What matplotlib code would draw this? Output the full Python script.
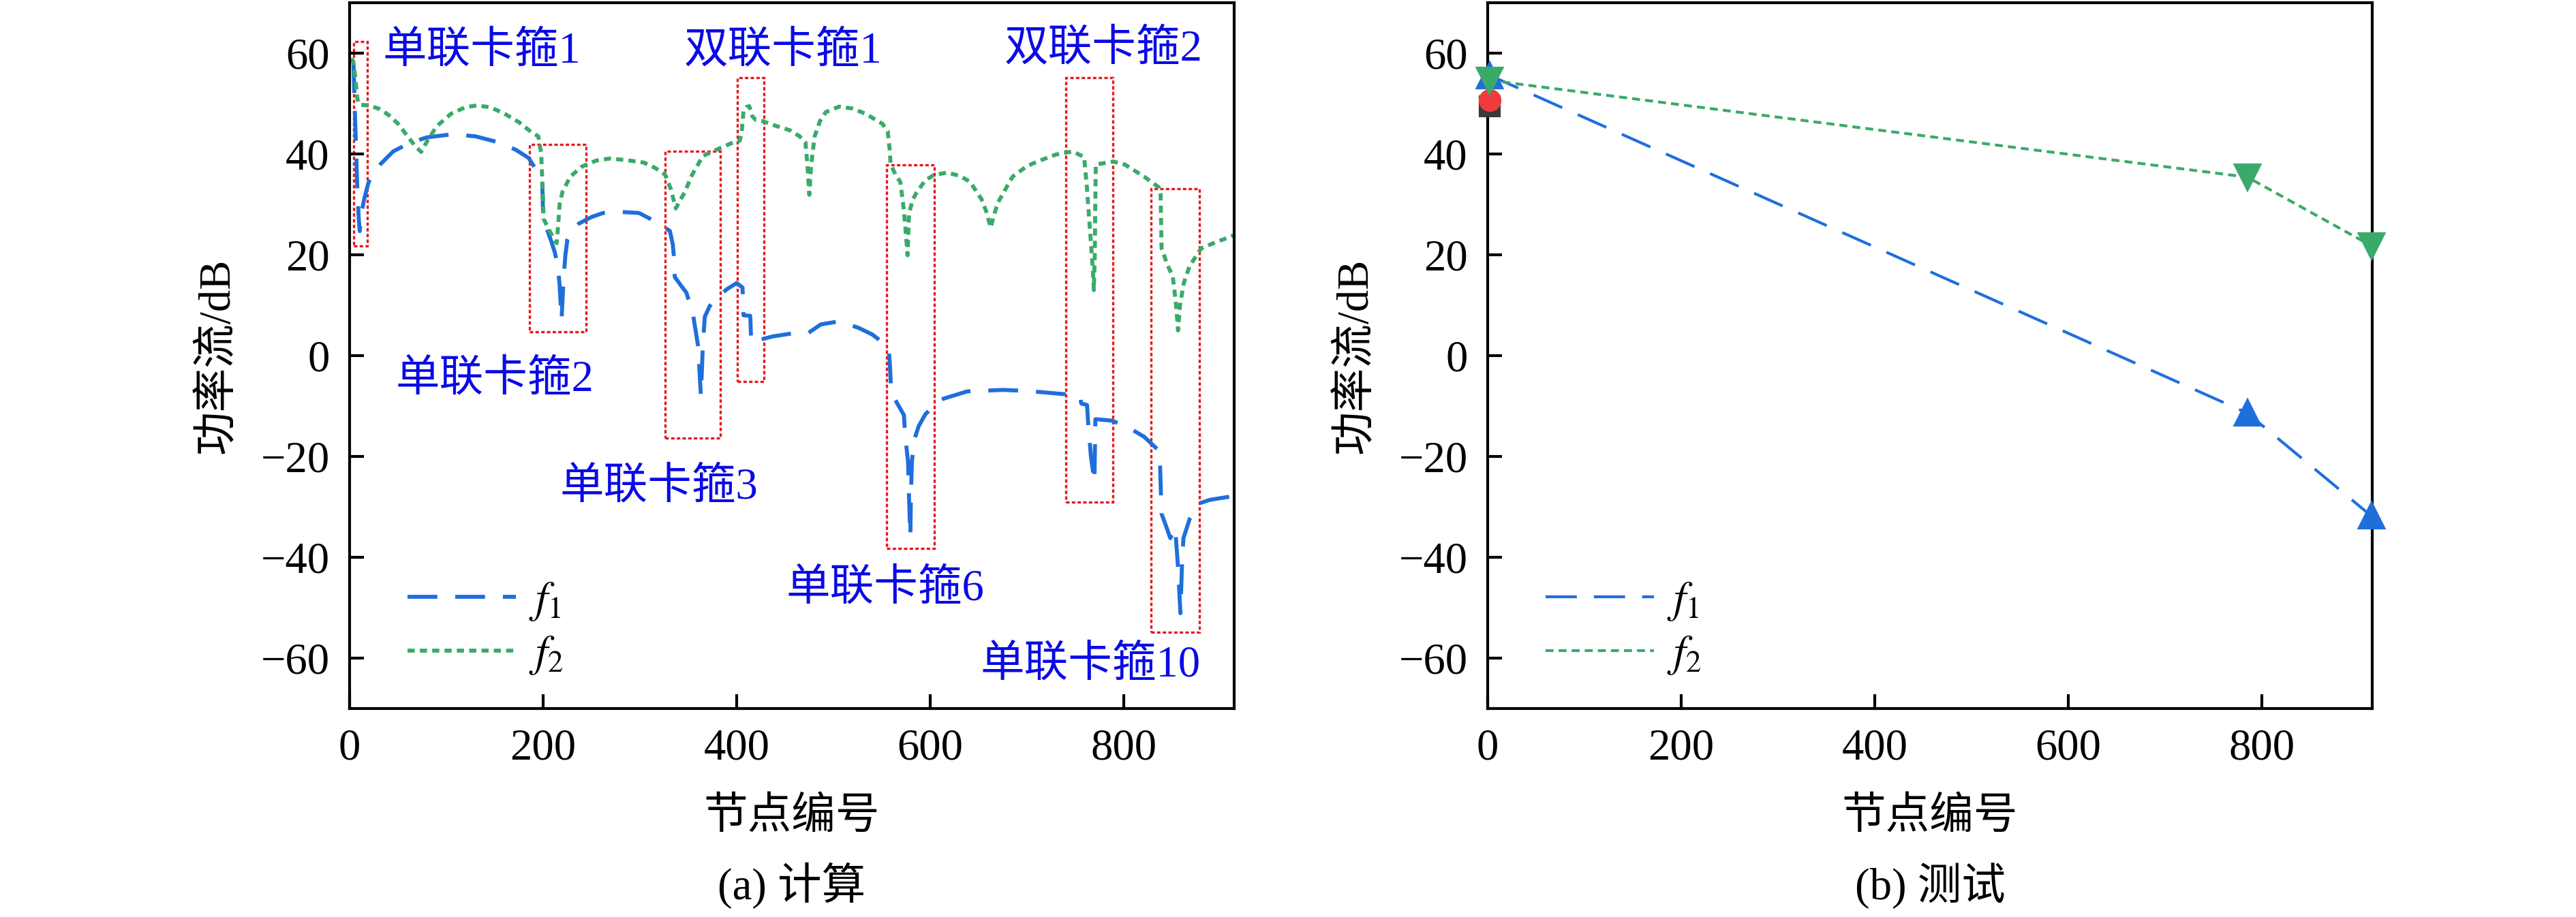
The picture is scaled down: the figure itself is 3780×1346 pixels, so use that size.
import numpy as np
import matplotlib
matplotlib.use("Agg")
import matplotlib.pyplot as plt
from matplotlib.patches import Rectangle

plt.rcParams['font.family'] = ['Liberation Serif', 'Noto Sans CJK SC']
plt.rcParams['mathtext.fontset'] = 'stix'
plt.rcParams['font.size'] = 15.5

BLUE = '#1f6fdb'
GREEN = '#3aaa6a'

# (a) computed power flow, f1
f1_x = [4, 6, 8, 9.5, 10.5, 12, 15, 19, 22, 32, 45, 62, 80, 106, 130, 156, 172, 185, 193,
        195, 199, 200, 204, 208, 212, 215, 217, 219, 221, 223, 225, 230, 237, 250, 262, 280,
        299, 311, 322, 331, 334, 335, 336, 342, 348, 355, 360, 363, 365, 367, 372, 378, 390,
        400, 406, 407, 414, 415, 425, 437, 457, 474, 487, 506, 526, 540, 551, 557, 558,
        558.5, 559.5, 563, 568, 572.8, 574, 577, 578, 579.4, 580, 581, 583.8, 588, 595, 611,
        638, 675, 700, 730, 749, 755, 756, 762, 763, 766, 769.6, 770.6, 788, 806, 821, 831,
        837, 838.3, 839, 844, 848, 851, 853, 856, 858.5, 860, 861.6, 868, 878, 889, 912]
f1_y = [58, 45, 33, 27, 24.7, 28, 31, 34, 35.5, 38, 40.5, 42.2, 43.3, 43.9, 43.5, 42.2, 40.8,
        39.2, 36.8, 36, 34.5, 27.5, 25, 22.9, 20.5, 18, 14, 7.1, 15, 20, 23, 24.8, 26.2,
        27.5, 28.3, 28.5, 28.3, 27.1, 26, 24.7, 22, 19.8, 15.6, 14, 12.5, 8, 2, -8, 2, 7.7,
        9.8, 11.3, 13.2, 14.4, 13.5, 8, 7.9, 2.6, 3.2, 3.8, 4.4, 4.5, 6.2, 6.8, 5.5, 4.2,
        2.6, 1.2, -1.0, -2.6, -6.8, -8.5, -10.2, -11.8, -15.8, -21, -28, -35.9, -28, -21,
        -16.5, -14, -11.6, -8.7, -7.1, -6.8, -7, -7.5, -7.8, -8.2, -9.5, -9.8, -13, -20,
        -25.1, -12.6, -12.9, -14.4, -16.1, -17.9, -19, -27.2, -31.4, -34, -36.2, -35, -34.1,
        -42, -51.1, -42, -36.2, -32.4, -29.3, -28.6, -27.9]

# (a) computed power flow, f2
f2_x = [2, 4, 6, 8, 10, 20, 30, 40, 50, 60, 68, 74, 80, 90, 105, 120, 131, 145, 160, 175,
        188, 195, 198, 199.5, 200.5, 206, 211, 214, 215.5, 217, 220, 228, 240, 255, 269,
        285, 304, 316, 326, 332, 337, 342, 346, 354, 365, 382, 399, 403, 405, 407, 410, 413,
        416, 420, 427, 440, 455, 465, 471, 473, 475, 477, 480.5, 486, 492, 506, 520, 534,
        545, 550.5, 556, 558, 559, 565, 569, 572, 574, 576.5, 578, 582, 586, 595, 603.6,
        617, 630, 641, 653, 658, 662.4, 666, 670, 685, 700, 712, 730, 747, 759, 762, 765,
        768, 769, 770, 770.5, 771, 789, 801, 821, 836, 838, 839, 845, 850.6, 854, 856, 858,
        862, 868, 880, 895, 909, 915]
f2_y = [59, 58, 55, 51, 49.8, 49.6, 49, 47.8, 46, 43.5, 41.5, 40.4, 42.5, 45.5, 48, 49.3,
        49.6, 49.3, 48, 46.3, 44.3, 43.5, 40, 33, 27.1, 25, 23.2, 22.3, 26, 30, 32.5, 35.5,
        37.5, 38.7, 39.1, 38.8, 38.3, 37.2, 35.9, 33, 29.2, 31, 32.3, 35.9, 39.6, 41.1,
        42.5, 42.6, 44, 48.5, 49.3, 49.5, 47.5, 46.7, 46.5, 45.6, 44.7, 43.5, 42.3, 38,
        31.9, 38, 43.5, 46.5, 48.3, 49.4, 49, 47.9, 46.6, 46, 44.5, 41, 38, 35.5, 34.5, 30,
        26.1, 19.9, 28.2, 31, 32.4, 34.8, 35.8, 36.3, 35.7, 34.5, 31, 28.5, 25.4, 28, 30.4,
        35.5, 37.6, 38.6, 39.9, 40.5, 39.4, 33, 25, 17, 13, 20, 30, 37.9, 38.5, 37.9, 35.5,
        33.4, 32, 21.3, 18, 15.7, 10, 5.0, 10, 14.4, 17.8, 21.3, 22.5, 23.5, 24]

# clamp regions (red dotted boxes)
box_x0 = [4, 186, 326, 401, 555, 740, 828]
box_x1 = [18, 244, 383, 428, 604, 789, 878]
box_y0 = [21.8, 4.7, -16.4, -5.1, -38.2, -29.1, -54.9]
box_y1 = [62.3, 41.9, 40.6, 55.2, 37.9, 55.2, 33.1]

notes = ['单联卡箍1', '双联卡箍1', '双联卡箍2', '单联卡箍2', '单联卡箍3', '单联卡箍6', '单联卡箍10']
note_x = [34.5, 345.8, 676.8, 47.2, 216.9, 450.7, 652]
note_y = [60.3, 60.4, 60.7, -4.75, -26.1, -46.3, -61.4]

# (b) measured
m_x = [2, 785, 913]
m_f1 = [55.6, -11.4, -31.8]
m_f2 = [54.6, 35.4, 21.8]
ref_x = [2]
ref_red = [50.7]
ref_gray = [49.4]

fig = plt.figure(figsize=(12.6, 1346 / 300), dpi=300)
ax1 = fig.add_axes([513 / 3780, 306 / 1346, 1298 / 3780, 1036 / 1346])
ax2 = fig.add_axes([2183 / 3780, 306 / 1346, 1298 / 3780, 1036 / 1346])

# left panel
ax1.plot(f1_x, f1_y, color=BLUE, lw=1.4, dashes=(7.5, 4.5), label=r'$f_1$')
ax1.plot(f2_x, f2_y, color=GREEN, lw=1.4, dashes=(1.8, 1.3), label=r'$f_2$')
for x0, x1, y0, y1 in zip(box_x0, box_x1, box_y0, box_y1):
    ax1.add_patch(Rectangle((x0, y0), x1 - x0, y1 - y0, fill=False, edgecolor='#e8191c',
                            lw=0.8, linestyle=(0, (1.5, 1.0))))
for t, x, y in zip(notes, note_x, note_y):
    ax1.text(x, y, t, color='#0a0ae6', ha='left', va='center')

# right panel
ax2.plot(ref_x, ref_gray, 's', color='#3a3a3a', ms=6.5, clip_on=False, zorder=3)
ax2.plot(ref_x, ref_red, 'o', color='#ee3b3b', ms=7, clip_on=False, zorder=3)
ax2.plot(m_x, m_f1, color=BLUE, lw=1.0, dashes=(11, 6), label=r'$f_1$', clip_on=False)
ax2.plot(m_x, m_f1, '^', color=BLUE, ms=8.5, clip_on=False, zorder=4)
ax2.plot(m_x, m_f2, color=GREEN, lw=1.0, dashes=(2.8, 1.8), label=r'$f_2$', clip_on=False)
ax2.plot(m_x, m_f2, 'v', color=GREEN, ms=8.5, clip_on=False, zorder=4)

for ax, cap in [(ax1, '(a) 计算'), (ax2, '(b) 测试')]:
    ax.set_xlim(0, 914)
    ax.set_ylim(-70, 70)
    ax.set_xticks([0, 200, 400, 600, 800])
    ax.set_yticks([-60, -40, -20, 0, 20, 40, 60])
    ax.tick_params(direction='in', length=5, width=1.0, pad=7, top=False, right=False)
    for s in ax.spines.values():
        s.set_linewidth(1.0)
    ax.set_xlabel('节点编号')
    ax.xaxis.label.set_va('center')
    ax.xaxis.set_label_coords(0.5, (1040 - 1200) / 1036)
    ax.set_ylabel('功率流/dB')
    ax.yaxis.label.set_va('center')
    ax.yaxis.set_label_coords(-193 / 1298, 0.5)
    ax.text(0.5, (1040 - 1300) / 1036, cap, transform=ax.transAxes, ha='center', va='center')
    ax.legend(loc='center left', bbox_to_anchor=(53 / 1298, 118 / 1036), frameon=False,
              borderpad=0, handlelength=2.45, handletextpad=0.3, labelspacing=0.25)

fig.savefig('out.png', dpi=300)
